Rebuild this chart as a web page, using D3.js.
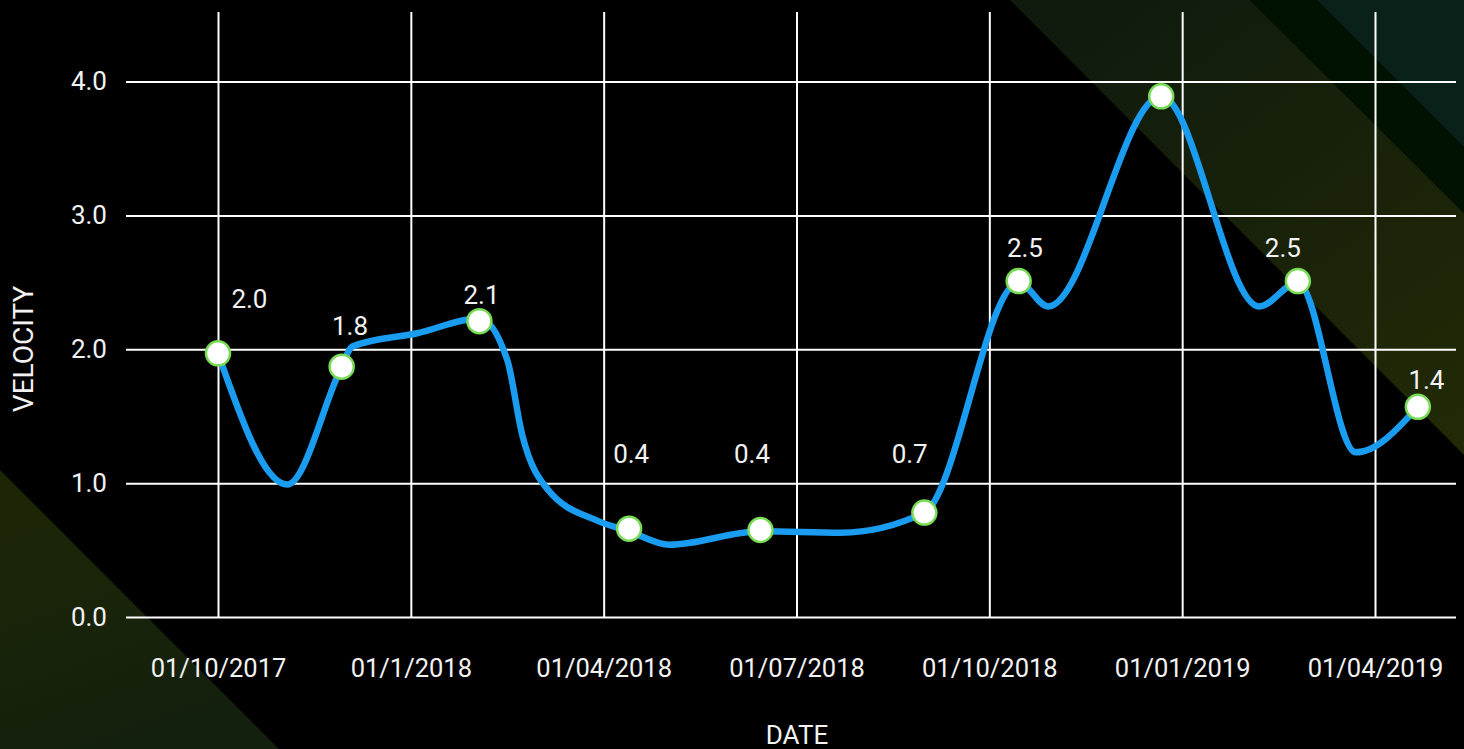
<!DOCTYPE html>
<html>
<head>
<meta charset="utf-8">
<script src="https://cdn.jsdelivr.net/npm/d3@7/dist/d3.min.js"></script>
<style>
  html, body { margin: 0; padding: 0; background: #000; }
  svg { display: block; }
  text { font-family: Roboto, "Noto Sans", sans-serif; fill: #f2f2f2; }
</style>
</head>
<body>
<svg id="chart" width="1464" height="749"></svg>
<script>
// ---------- data ----------
// x-axis tick dates (quarters) and their labels
const tickDates = ["2017-10-01", "2018-01-01", "2018-04-01", "2018-07-01", "2018-10-01", "2019-01-01", "2019-04-01"];
const tickLabels = ["01/10/2017", "01/1/2018", "01/04/2018", "01/07/2018", "01/10/2018", "01/01/2019", "01/04/2019"];
const yTicks = [0, 1, 2, 3, 4];

// smoothed velocity line
const lineDates = ["2017-10-01", "2017-11-03", "2017-11-29", "2017-12-04", "2018-01-04", "2018-02-02",
                   "2018-02-15", "2018-02-22", "2018-03-06", "2018-03-29", "2018-04-13", "2018-05-02",
                   "2018-06-14", "2018-07-22", "2018-08-31", "2018-10-15", "2018-10-29", "2018-12-22",
                   "2019-02-06", "2019-02-24", "2019-03-23", "2019-04-21"];
const lineValues = [1.97, 0.99, 1.87, 2.02, 2.12, 2.23,
                    1.92, 1.36, 0.95, 0.72, 0.64, 0.54,
                    0.64, 0.63, 0.78, 2.50, 2.32, 3.89,
                    2.32, 2.50, 1.23, 1.57];

// markers
const pointDates = ["2017-10-01", "2017-11-29", "2018-02-02", "2018-04-13", "2018-06-14", "2018-08-31",
                    "2018-10-15", "2018-12-22", "2019-02-24", "2019-04-21"];
const pointValues = [1.97, 1.87, 2.21, 0.66, 0.65, 0.78, 2.51, 3.89, 2.51, 1.57];

// data labels (text and anchor in data space)
const labelTexts = ["2.0", "1.8", "2.1", "0.4", "0.4", "0.7", "2.5", "2.5", "1.4"];
const labelDates = ["2017-10-16", "2017-12-03", "2018-02-03", "2018-04-14", "2018-06-10", "2018-08-24",
                    "2018-10-18", "2019-02-17", "2019-04-25"];
const labelValues = [2.31, 2.11, 2.34, 1.15, 1.15, 1.15, 2.69, 2.69, 1.70];

// ---------- setup ----------
const parse = d3.utcParse("%Y-%m-%d");
const W = 1464, H = 749;
const plotLeft = 126, plotRight = 1456, plotTop = 12, plotBottom = 617;
const firstTickX = 218, lastTickX = 1375;

const svg = d3.select("#chart");
const defs = svg.append("defs");

// background
svg.append("rect").attr("width", W).attr("height", H).attr("fill", "#000");

const g1 = defs.append("linearGradient").attr("id", "bandTR").attr("gradientUnits", "userSpaceOnUse")
  .attr("x1", 1120).attr("y1", 0).attr("x2", 1440).attr("y2", 440);
g1.append("stop").attr("offset", 0).attr("stop-color", "#101b0e");
g1.append("stop").attr("offset", 1).attr("stop-color", "#212905");

const g2 = defs.append("linearGradient").attr("id", "bandBL").attr("gradientUnits", "userSpaceOnUse")
  .attr("x1", 40).attr("y1", 520).attr("x2", 120).attr("y2", 749);
g2.append("stop").attr("offset", 0).attr("stop-color", "#1c2607");
g2.append("stop").attr("offset", 1).attr("stop-color", "#13200d");

const poly = pts => "M" + pts.map(p => p.join(",")).join("L") + "Z";
svg.append("path").attr("d", poly([[1010, 0], [1250, 0], [1464, 213], [1464, 455]])).attr("fill", "url(#bandTR)");
svg.append("path").attr("d", poly([[1250, 0], [1317, 0], [1464, 147], [1464, 213]])).attr("fill", "#011200");
svg.append("path").attr("d", poly([[1317, 0], [1464, 0], [1464, 147]])).attr("fill", "#0a211a");
svg.append("path").attr("d", poly([[0, 470], [279, 749], [0, 749]])).attr("fill", "url(#bandBL)");

// scales: quarters equally spaced
const x = d3.scaleUtc()
  .domain(tickDates.map(parse))
  .range(tickDates.map((d, i) => firstTickX + i * (lastTickX - firstTickX) / (tickDates.length - 1)));
const y = d3.scaleLinear().domain([0, 4.52]).range([plotBottom, plotTop]);

// y axis with horizontal gridlines
const yAxis = svg.append("g")
  .attr("transform", `translate(${plotLeft},0)`)
  .call(d3.axisLeft(y).tickValues(yTicks).tickFormat(d3.format(".1f"))
    .tickSize(-(plotRight - plotLeft)).tickPadding(19));
yAxis.select(".domain").remove();
yAxis.selectAll(".tick line").attr("stroke", "#fff").attr("stroke-width", 2);
yAxis.selectAll(".tick text").attr("font-size", 26).attr("fill", "#f2f2f2")
  .style("font-family", "Roboto, sans-serif");

// x axis with vertical gridlines
const xAxis = svg.append("g")
  .attr("transform", `translate(0,${plotBottom})`)
  .call(d3.axisBottom(x).tickValues(tickDates.map(parse))
    .tickFormat((d, i) => tickLabels[i])
    .tickSize(-(plotBottom - plotTop)).tickPadding(0));
xAxis.select(".domain").remove();
xAxis.selectAll(".tick line").attr("stroke", "#fff").attr("stroke-width", 2);
xAxis.selectAll(".tick text").attr("font-size", 25.5).attr("fill", "#f2f2f2")
  .attr("y", 60).attr("dy", 0)
  .style("font-family", "Roboto, sans-serif");

// line
const line = d3.line()
  .x((d, i) => x(parse(lineDates[i])))
  .y(d => y(d))
  .curve(d3.curveMonotoneX);
svg.append("path")
  .datum(lineValues)
  .attr("d", line)
  .attr("fill", "none")
  .attr("stroke", "#1a9cf0")
  .attr("stroke-width", 6.5)
  .attr("stroke-linecap", "round")
  .attr("stroke-linejoin", "round");

// markers
svg.append("g").selectAll("circle")
  .data(pointValues)
  .join("circle")
  .attr("cx", (d, i) => x(parse(pointDates[i])))
  .attr("cy", d => y(d))
  .attr("r", 12)
  .attr("fill", "#fff")
  .attr("stroke", "#78db55")
  .attr("stroke-width", 2.5);

// data labels
svg.append("g").selectAll("text")
  .data(labelTexts)
  .join("text")
  .attr("x", (d, i) => x(parse(labelDates[i])))
  .attr("y", (d, i) => y(labelValues[i]))
  .attr("text-anchor", "middle")
  .attr("font-size", 26)
  .text(d => d);

// axis titles
svg.append("text")
  .attr("transform", `translate(33,349) rotate(-90)`)
  .attr("text-anchor", "middle")
  .attr("font-size", 28)
  .text("VELOCITY");
svg.append("text")
  .attr("x", 797).attr("y", 744)
  .attr("text-anchor", "middle")
  .attr("font-size", 26)
  .text("DATE");
</script>
</body>
</html>
